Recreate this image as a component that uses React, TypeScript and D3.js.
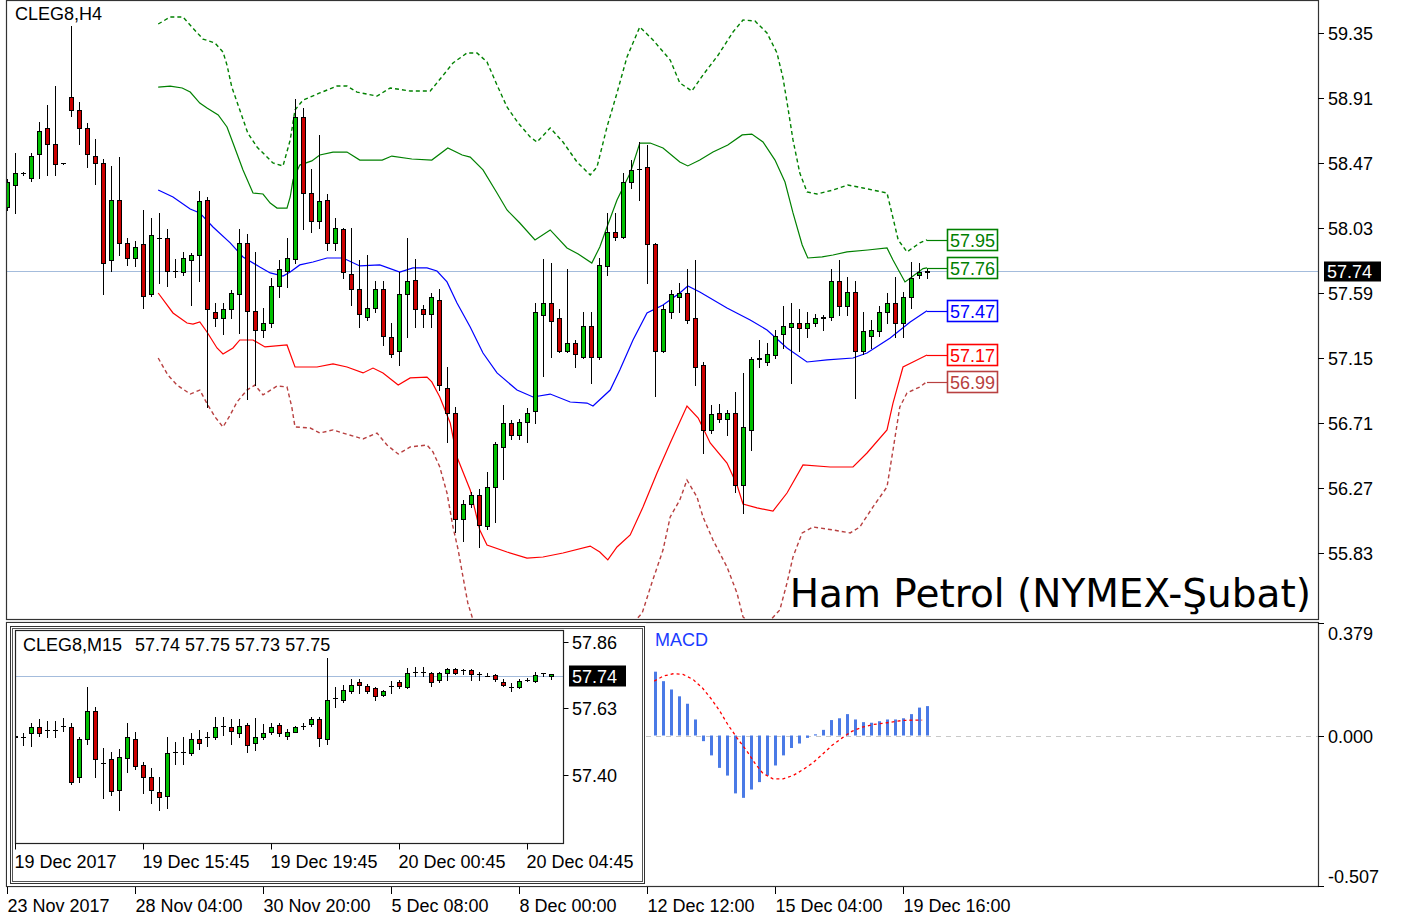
import React from 'react';
import * as d3 from 'd3';

// ---------- DATA ----------
// H4 candles: [open, high, low, close], bar index 0..115
const h4Candles: [number, number, number, number][] = [
  [58.17, 58.36, 58.15, 58.34], [58.32, 58.54, 58.13, 58.40], [58.40, 58.41, 58.39, 58.40], [58.37, 58.54, 58.35, 58.52],
  [58.53, 58.75, 58.37, 58.69], [58.71, 58.86, 58.39, 58.60], [58.60, 58.99, 58.39, 58.46], [58.47, 58.47, 58.47, 58.47],
  [58.92, 59.40, 58.79, 58.83], [58.83, 58.88, 58.60, 58.71], [58.71, 58.74, 58.44, 58.53], [58.52, 58.63, 58.33, 58.47],
  [58.47, 58.50, 57.58, 57.79], [57.81, 58.45, 57.74, 58.22], [58.22, 58.51, 57.85, 57.93], [57.93, 57.96, 57.78, 57.83],
  [57.83, 57.94, 57.77, 57.90], [57.92, 58.15, 57.49, 57.57], [57.58, 58.10, 57.57, 57.98], [57.96, 58.13, 57.66, 57.96],
  [57.96, 58.02, 57.64, 57.74], [57.74, 57.82, 57.70, 57.74], [57.73, 57.87, 57.71, 57.83], [57.81, 57.86, 57.51, 57.85],
  [57.85, 58.28, 57.67, 58.21], [58.22, 58.24, 56.82, 57.48], [57.46, 57.52, 57.37, 57.42], [57.42, 57.52, 57.31, 57.48],
  [57.48, 57.61, 57.42, 57.59], [57.58, 58.02, 57.32, 57.93], [57.93, 57.99, 56.87, 57.47], [57.47, 57.87, 56.97, 57.34],
  [57.34, 57.49, 57.29, 57.39], [57.39, 57.69, 57.36, 57.64], [57.64, 57.81, 57.56, 57.75], [57.74, 57.96, 57.63, 57.83],
  [57.82, 58.90, 57.79, 58.78], [58.78, 58.84, 58.02, 58.27], [58.27, 58.43, 58.00, 58.08], [58.08, 58.66, 58.03, 58.21],
  [58.22, 58.26, 57.88, 57.93], [57.93, 58.10, 57.88, 58.03], [58.02, 58.03, 57.69, 57.73], [57.72, 58.03, 57.51, 57.62],
  [57.62, 57.81, 57.36, 57.45], [57.43, 57.85, 57.41, 57.49], [57.49, 57.67, 57.46, 57.62], [57.62, 57.67, 57.24, 57.30],
  [57.29, 57.39, 57.16, 57.18], [57.20, 57.73, 57.10, 57.58], [57.58, 57.96, 57.29, 57.67], [57.68, 57.82, 57.36, 57.48],
  [57.48, 57.51, 57.36, 57.45], [57.45, 57.59, 57.36, 57.56], [57.54, 57.62, 56.93, 56.97], [56.95, 57.09, 56.58, 56.78],
  [56.78, 56.82, 55.97, 56.06], [56.06, 56.19, 55.91, 56.16], [56.16, 56.24, 56.14, 56.22], [56.22, 56.26, 55.87, 56.02],
  [56.01, 56.38, 55.99, 56.28], [56.28, 56.58, 56.04, 56.57], [56.55, 56.83, 56.33, 56.71], [56.71, 56.73, 56.60, 56.63],
  [56.63, 56.74, 56.60, 56.72], [56.72, 56.81, 56.58, 56.78], [56.79, 57.52, 56.71, 57.46], [57.44, 57.82, 57.03, 57.52],
  [57.52, 57.79, 57.16, 57.40], [57.42, 57.48, 57.19, 57.20], [57.20, 57.75, 57.19, 57.25], [57.25, 57.27, 57.09, 57.18],
  [57.16, 57.46, 57.15, 57.37], [57.37, 57.46, 56.98, 57.16], [57.16, 57.83, 57.14, 57.78], [57.77, 58.13, 57.71, 58.00],
  [58.00, 58.13, 57.95, 57.97], [57.97, 58.40, 57.96, 58.34], [58.34, 58.49, 58.30, 58.42], [58.43, 58.61, 58.22, 58.43],
  [58.44, 58.59, 57.66, 57.92], [57.92, 57.93, 56.89, 57.20], [57.20, 57.51, 57.19, 57.48], [57.46, 57.61, 57.42, 57.58],
  [57.56, 57.66, 57.46, 57.59], [57.59, 57.75, 57.39, 57.41], [57.42, 57.81, 56.97, 57.09], [57.10, 57.12, 56.51, 56.66],
  [56.66, 56.83, 56.64, 56.77], [56.78, 56.84, 56.72, 56.74], [56.74, 56.80, 56.63, 56.78], [56.78, 56.92, 56.24, 56.29],
  [56.29, 57.05, 56.10, 56.68], [56.66, 57.16, 56.53, 57.14], [57.14, 57.27, 57.09, 57.15], [57.12, 57.25, 57.10, 57.18],
  [57.17, 57.34, 57.15, 57.30], [57.31, 57.50, 57.22, 57.37], [57.36, 57.52, 56.98, 57.39], [57.39, 57.48, 57.20, 57.35],
  [57.35, 57.46, 57.29, 57.39], [57.39, 57.45, 57.37, 57.42], [57.42, 57.44, 57.34, 57.43], [57.43, 57.75, 57.41, 57.67],
  [57.67, 57.81, 57.44, 57.50], [57.50, 57.70, 57.44, 57.60], [57.60, 57.67, 56.88, 57.20], [57.20, 57.46, 57.18, 57.33],
  [57.30, 57.41, 57.22, 57.34], [57.33, 57.50, 57.30, 57.46], [57.46, 57.59, 57.39, 57.52], [57.52, 57.70, 57.29, 57.39],
  [57.39, 57.60, 57.29, 57.56], [57.56, 57.80, 57.49, 57.69], [57.71, 57.79, 57.69, 57.73], [57.73, 57.76, 57.69, 57.74],
];

// M15 candles for the inset chart, bar index 0..67
const m15Candles: [number, number, number, number][] = [
  [57.535, 57.545, 57.52, 57.53], [57.53, 57.544, 57.504, 57.53], [57.544, 57.578, 57.50, 57.567], [57.565, 57.593, 57.535, 57.544],
  [57.555, 57.587, 57.532, 57.555], [57.555, 57.585, 57.532, 57.555], [57.569, 57.596, 57.551, 57.569], [57.567, 57.578, 57.37, 57.377],
  [57.392, 57.53, 57.375, 57.523], [57.523, 57.705, 57.507, 57.622], [57.622, 57.636, 57.392, 57.454], [57.443, 57.492, 57.32, 57.443],
  [57.454, 57.48, 57.33, 57.346], [57.348, 57.49, 57.28, 57.463], [57.46, 57.58, 57.412, 57.53], [57.523, 57.55, 57.42, 57.431],
  [57.435, 57.446, 57.339, 57.392], [57.392, 57.423, 57.303, 57.348], [57.342, 57.394, 57.279, 57.323], [57.327, 57.532, 57.285, 57.475],
  [57.48, 57.515, 57.438, 57.48], [57.48, 57.53, 57.438, 57.48], [57.475, 57.544, 57.47, 57.523], [57.523, 57.555, 57.49, 57.51],
  [57.53, 57.55, 57.50, 57.53], [57.53, 57.60, 57.525, 57.565], [57.57, 57.60, 57.538, 57.57], [57.565, 57.592, 57.507, 57.553],
  [57.546, 57.592, 57.53, 57.569], [57.572, 57.578, 57.48, 57.503], [57.512, 57.596, 57.486, 57.53], [57.53, 57.575, 57.525, 57.544],
  [57.55, 57.58, 57.54, 57.565], [57.572, 57.58, 57.535, 57.544], [57.535, 57.56, 57.525, 57.55], [57.55, 57.568, 57.548, 57.565],
  [57.57, 57.58, 57.56, 57.57], [57.576, 57.60, 57.57, 57.592], [57.592, 57.60, 57.50, 57.527], [57.523, 57.803, 57.507, 57.66],
  [57.665, 57.705, 57.634, 57.665], [57.66, 57.71, 57.652, 57.693], [57.691, 57.73, 57.682, 57.71], [57.722, 57.73, 57.682, 57.711],
  [57.707, 57.713, 57.682, 57.691], [57.699, 57.705, 57.659, 57.673], [57.676, 57.695, 57.672, 57.691], [57.707, 57.725, 57.682, 57.707],
  [57.722, 57.728, 57.699, 57.707], [57.705, 57.768, 57.70, 57.751], [57.757, 57.774, 57.74, 57.757], [57.757, 57.774, 57.74, 57.757],
  [57.751, 57.755, 57.707, 57.722], [57.728, 57.755, 57.72, 57.751], [57.751, 57.768, 57.728, 57.765], [57.765, 57.768, 57.75, 57.753],
  [57.762, 57.765, 57.75, 57.762], [57.762, 57.765, 57.728, 57.749], [57.749, 57.755, 57.728, 57.749], [57.74, 57.752, 57.74, 57.74],
  [57.745, 57.748, 57.725, 57.73], [57.722, 57.73, 57.707, 57.711], [57.705, 57.716, 57.69, 57.705], [57.705, 57.73, 57.70, 57.725],
  [57.728, 57.735, 57.725, 57.728], [57.725, 57.755, 57.72, 57.745], [57.751, 57.752, 57.74, 57.751], [57.74, 57.75, 57.73, 57.75],
];

// Bollinger bands: [bar index, price]
const bbUpper: [number, number][] = [
  [18.9, 58.984], [20.4, 58.991], [21.9, 58.978], [22.9, 58.95], [24.1, 58.876], [25, 58.842], [26.4, 58.795], [27.5, 58.714],
  [28.25, 58.605], [29.5, 58.423], [30.75, 58.267], [32, 58.26], [32.9, 58.199], [33.75, 58.165], [35, 58.165], [35.4, 58.24],
  [35.75, 58.355], [36.6, 58.456], [38.1, 58.484], [39.1, 58.524], [40.75, 58.544], [42.5, 58.544], [44.1, 58.49], [46.9, 58.49],
  [48.1, 58.517], [50.6, 58.497], [53.1, 58.49], [55.1, 58.572], [56.9, 58.524], [57.9, 58.51], [59.5, 58.423], [61.25, 58.267],
  [62.5, 58.152], [64.1, 58.064], [66, 57.949], [67.9, 58.017], [70, 57.895], [71.4, 57.854], [73.1, 57.793], [74.1, 57.901],
  [75, 58.037], [76.25, 58.22], [77.9, 58.402], [79.1, 58.605], [80.4, 58.605], [82, 58.572], [84.1, 58.477], [85.1, 58.45],
  [86.6, 58.49], [88.25, 58.544], [90.1, 58.592], [91.9, 58.66], [93.1, 58.666], [94.5, 58.612], [96, 58.49], [97.25, 58.341],
  [98.25, 58.132], [99.4, 57.915], [100.1, 57.827], [101.9, 57.834], [103.25, 57.847], [105, 57.868], [107.6, 57.881], [110, 57.895],
  [110.75, 57.813], [112.25, 57.665], [113.1, 57.698], [114.5, 57.755], [115, 57.76],
];
const bbMiddle: [number, number][] = [
  [18.9, 58.287], [20.75, 58.24], [22.9, 58.159], [24.1, 58.132], [25.75, 58.037], [27.9, 57.929], [29.5, 57.834], [31.6, 57.766],
  [32.9, 57.726], [34.5, 57.705], [35.4, 57.732], [36.6, 57.78], [38.25, 57.8], [40, 57.827], [42, 57.827], [44.1, 57.773],
  [46.6, 57.78], [49.1, 57.732], [50.75, 57.76], [52.5, 57.76], [53.75, 57.739], [55, 57.665], [56.25, 57.522], [57.9, 57.36],
  [59.5, 57.184], [61.25, 57.049], [63.75, 56.933], [65.75, 56.886], [67.9, 56.906], [70.4, 56.852], [72.5, 56.845], [73.25, 56.825],
  [75.4, 56.933], [76.6, 57.069], [78.25, 57.272], [80, 57.455], [82, 57.509], [84.1, 57.59], [85.1, 57.637], [86.6, 57.597],
  [90, 57.489], [92.9, 57.407], [95, 57.34], [97.5, 57.218], [100, 57.123], [102.5, 57.137], [105.75, 57.15], [107.5, 57.184],
  [110.4, 57.286], [112.9, 57.394], [115, 57.47],
];
const bbLower: [number, number][] = [
  [18.9, 57.59], [20.75, 57.455], [22.5, 57.387], [23.25, 57.38], [24.1, 57.394], [25, 57.326], [26.25, 57.218], [27, 57.177],
  [28.25, 57.218], [29.1, 57.272], [30.75, 57.272], [32.25, 57.225], [35, 57.238], [36, 57.089], [38.75, 57.089], [40.75, 57.11],
  [42.5, 57.089], [44.5, 57.049], [45.75, 57.082], [47, 57.049], [48.9, 56.967], [50.4, 57.015], [52.5, 57.021], [53.1, 56.988],
  [54.1, 56.886], [55.4, 56.71], [56.25, 56.48], [57.9, 56.257], [59.1, 55.986], [60, 55.884], [62.5, 55.837], [65, 55.796],
  [67, 55.803], [69.5, 55.83], [72.9, 55.877], [74.1, 55.837], [75.1, 55.783], [76.25, 55.871], [77.9, 55.952], [79.5, 56.141],
  [81.25, 56.372], [82.9, 56.575], [85, 56.825], [86.4, 56.744], [87.9, 56.575], [90, 56.439], [91.25, 56.29], [92, 56.162],
  [93.75, 56.135], [95.75, 56.114], [97.5, 56.236], [99.5, 56.426], [102.9, 56.412], [105.75, 56.412], [107.5, 56.507], [110, 56.663],
  [110.75, 56.845], [112, 57.089], [113.25, 57.123], [115, 57.17],
];
const bbUpperWide: [number, number][] = [
  [18.9, 59.411], [20.4, 59.458], [22, 59.458], [23.1, 59.391], [24.5, 59.309], [26, 59.282], [27, 59.221], [27.5, 59.133],
  [28.1, 58.984], [29.1, 58.829], [30.1, 58.673], [31.25, 58.578], [32.5, 58.511], [33.25, 58.47], [34.5, 58.45], [35.4, 58.626],
  [36, 58.829], [37, 58.896], [39.1, 58.944], [41.25, 58.991], [42.5, 58.991], [43.75, 58.95], [46.25, 58.923], [47.9, 58.978],
  [50.4, 58.957], [52.9, 58.957], [54.75, 59.079], [55.75, 59.147], [57.5, 59.215], [58.75, 59.215], [60, 59.154], [61.25, 58.998],
  [62.5, 58.849], [63.9, 58.741], [65.4, 58.646], [66.25, 58.612], [67.9, 58.707], [69.5, 58.612], [71.25, 58.477], [72.9, 58.389],
  [73.75, 58.443], [75, 58.714], [76.25, 58.944], [77.5, 59.188], [79.1, 59.391], [80.75, 59.303], [82.9, 59.167], [84.1, 59.012],
  [85.6, 58.957], [87, 59.066], [88.9, 59.201], [90.75, 59.357], [92, 59.438], [93.5, 59.431], [95, 59.35], [96.25, 59.215],
  [97, 59.045], [97.6, 58.849], [98.25, 58.626], [99.1, 58.402], [100, 58.274], [101.25, 58.26], [103.25, 58.287], [105.1, 58.321],
  [107, 58.301], [110, 58.267], [110.6, 58.132], [111.4, 57.949], [112.5, 57.868], [114.1, 57.929], [115, 57.95],
];
const bbLowerWide: [number, number][] = [
  [18.9, 57.15], [20.1, 57.035], [21.25, 56.967], [22.9, 56.906], [24.1, 56.933], [25.1, 56.832], [26, 56.751], [27, 56.683],
  [27.9, 56.764], [28.75, 56.852], [30, 56.933], [31, 56.967], [32, 56.9], [33.75, 56.96], [35, 56.954], [35.6, 56.818],
  [36, 56.683], [37.9, 56.676], [39.1, 56.642], [40.75, 56.663], [42, 56.642], [44.5, 56.602], [46.25, 56.642], [47.5, 56.561],
  [48.9, 56.5], [50.4, 56.548], [52.5, 56.561], [53.25, 56.514], [54.1, 56.412], [55, 56.236], [55.75, 56.006], [56.4, 55.85],
  [57, 55.668], [57.6, 55.492], [58.25, 55.377], [60.4, 55.17], [66.6, 55.07], [74.1, 55.11], [79.4, 55.424], [80.6, 55.627],
  [82, 55.85], [82.9, 56.074], [84.1, 56.189], [85, 56.324], [86.25, 56.209], [87, 56.074], [88.25, 55.918], [90, 55.735],
  [91.25, 55.559], [92, 55.397], [94.1, 55.3], [96.6, 55.444], [97.5, 55.627], [98.25, 55.803], [99.4, 55.966], [100.75, 56.006],
  [103.25, 55.986], [105.4, 55.966], [106.6, 56.006], [108.25, 56.142], [110, 56.277], [110.75, 56.527], [111.6, 56.818], [112.5, 56.913],
  [114.1, 56.954], [115, 56.99],
];

// MACD histogram for bars 81..115
const macdFirstBar = 81;
const macdHist = [
  0.215, 0.183, 0.155, 0.132, 0.107, 0.054, -0.019, -0.067, -0.109, -0.135, -0.195, -0.21, -0.182, -0.157, -0.135, -0.101,
  -0.067, -0.042, -0.027, -0.008, 0.004, 0.019, 0.052, 0.058, 0.072, 0.054, 0.045, 0.043, 0.048, 0.054, 0.054, 0.058,
  0.072, 0.094, 0.099,
];
const macdSignal: [number, number][] = [
  [80.9, 0.183], [82, 0.2], [83.25, 0.208], [84.5, 0.206], [85.75, 0.189], [86.9, 0.161], [88.1, 0.121], [89.1, 0.082],
  [90.1, 0.037], [91.25, -0.008], [92.5, -0.053], [93.5, -0.094], [94.5, -0.128], [95.75, -0.146], [97, -0.146], [98.25, -0.135],
  [99.5, -0.115], [100.75, -0.092], [101.9, -0.064], [103.1, -0.034], [104.4, -0.008], [105.6, 0.014], [106.9, 0.028], [108.25, 0.037],
  [110, 0.043], [112, 0.051], [114.4, 0.052],
];

const priceTicks = [59.35, 58.91, 58.47, 58.03, 57.59, 57.15, 56.71, 56.27, 55.83];
const currentPrice = 57.74;
const timeLabels = ['23 Nov 2017', '28 Nov 04:00', '30 Nov 20:00', '5 Dec 08:00', '8 Dec 00:00', '12 Dec 12:00', '15 Dec 04:00', '19 Dec 16:00'];
const timeLabelBars = [0, 16, 32, 48, 64, 80, 96, 112];
const insetTimeLabels = ['19 Dec 2017', '19 Dec 15:45', '19 Dec 19:45', '20 Dec 00:45', '20 Dec 04:45'];
const insetLabelBars = [0, 16, 32, 48, 64];
const insetPriceTicks = [57.86, 57.63, 57.40];
const macdTicks = [0.379, 0.0, -0.507];
const bandLabelValues = [57.95, 57.76, 57.47, 57.17, 56.99];
const insetOHLC = ['57.74', '57.75', '57.73', '57.75'];

// ---------- STYLE / LAYOUT ----------
const FONT = "'Liberation Sans', Arial, sans-serif";
const FS = 18;
const BULL = '#00c000';
const BEAR = '#cc0000';
const GREEN = '#008000';
const BLUE = '#0000ff';
const RED = '#ff0000';
const BROWN = '#b84040';
const PRICE_LINE = '#a4bcdc';
const bandLabelColors = [GREEN, GREEN, BLUE, RED, BROWN];

const M = { l: 7, r: 1318, t: 0, b: 619 };
const xMain = d3.scaleLinear().domain([0, 115]).range([7, 927]);
const yMain = d3.scaleLinear().domain([55.83, 59.35]).range([553, 33]);
const yMacd = d3.scaleLinear().domain([-0.507, 0.379]).range([886, 623]);
const IN = { l: 15.5, r: 563.5, t: 630.5, b: 843.5 };
const xIn = d3.scaleLinear().domain([0, 67]).range([15, 551]);
const yIn = d3.scaleLinear().domain([57.40, 57.86]).range([775, 641.7]);

function Candles({ data, xs, ys, prefix }: { data: [number, number, number, number][]; xs: (i: number) => number; ys: (v: number) => number; prefix: string }) {
  return (
    <g>
      {data.map((c, i) => {
        const [o, h, l, cl] = c;
        const cx = Math.round(xs(i));
        const yh = Math.round(ys(h));
        const yl = Math.round(ys(l));
        const top = Math.round(ys(Math.max(o, cl)));
        const bot = Math.round(ys(Math.min(o, cl)));
        const doji = Math.abs(o - cl) < 0.004;
        return (
          <g key={prefix + i}>
            <line x1={cx + 0.5} x2={cx + 0.5} y1={yh} y2={Math.max(yl, yh + 1) + 1} stroke="#000" strokeWidth={1} />
            {doji ? (
              <line x1={cx - 2} x2={cx + 3} y1={top + 0.5} y2={top + 0.5} stroke="#000" strokeWidth={1} />
            ) : (
              <rect x={cx - 1.5} y={top + 0.5} width={4} height={Math.max(1, bot - top)} fill={cl > o ? BULL : BEAR} stroke="#000" strokeWidth={1} />
            )}
          </g>
        );
      })}
    </g>
  );
}

export default function App() {
  const line = d3.line<[number, number]>().x(d => xMain(d[0])).y(d => yMain(d[1]));
  const sigLine = d3.line<[number, number]>().x(d => xMain(d[0])).y(d => yMacd(d[1]));
  const bands: { d: [number, number][]; c: string; dash?: string }[] = [
    { d: bbUpperWide, c: GREEN, dash: '4,3' },
    { d: bbUpper, c: GREEN },
    { d: bbMiddle, c: BLUE },
    { d: bbLower, c: RED },
    { d: bbLowerWide, c: BROWN, dash: '4,3' },
  ];
  const yCur = Math.round(yMain(currentPrice)) + 0.5;
  const yCurIn = Math.round(yIn(currentPrice)) + 0.5;
  const txt = { fontFamily: FONT, fontSize: FS, fill: '#000' } as const;

  return (
    <svg width={1407} height={922} style={{ position: 'absolute', left: 0, top: 0, background: '#fff' }}>
      <defs>
        <clipPath id="mainClip"><rect x={M.l} y={M.t} width={M.r - M.l} height={M.b - M.t} /></clipPath>
        <clipPath id="inClip"><rect x={IN.l} y={IN.t} width={IN.r - IN.l} height={IN.b - IN.t} /></clipPath>
        <clipPath id="macdClip"><rect x={646} y={623} width={672} height={263} /></clipPath>
      </defs>
      <rect x={0} y={0} width={1407} height={922} fill="#fff" />

      {/* ---------- main pane ---------- */}
      <g clipPath="url(#mainClip)">
        <line x1={M.l} x2={M.r} y1={yCur} y2={yCur} stroke={PRICE_LINE} strokeWidth={1.2} />
        {bands.map((b, i) => (
          <path key={'band' + i} d={line(b.d) || ''} fill="none" stroke={b.c} strokeWidth={b.dash ? 1.4 : 1.2} strokeDasharray={b.dash} />
        ))}
        <Candles data={h4Candles} xs={xMain} ys={yMain} prefix="h4" />
        {bandLabelValues.map((v, i) => {
          const yy = Math.round(yMain(v)) + 0.5;
          return (
            <g key={'bl' + i}>
              <line x1={xMain(115)} x2={947} y1={yy} y2={yy} stroke={bandLabelColors[i]} strokeWidth={1.2} />
              <rect x={947.5} y={yy - 11} width={50} height={21} fill="#fff" stroke={bandLabelColors[i]} strokeWidth={1.6} />
              <text x={972.5} y={yy + 0.5} textAnchor="middle" dominantBaseline="central" style={{ fontFamily: FONT, fontSize: FS, fill: bandLabelColors[i] }}>{v.toFixed(2)}</text>
            </g>
          );
        })}
        <text x={1311} y={607} textAnchor="end" style={{ fontFamily: "'DejaVu Sans', Verdana, sans-serif", fontSize: 39, fill: '#000' }}>Ham Petrol (NYMEX-Şubat)</text>
      </g>
      <text x={15} y={14} dominantBaseline="central" style={txt}>CLEG8,H4</text>
      <rect x={M.l - 0.5} y={0.5} width={M.r - M.l + 1} height={M.b} fill="none" stroke="#333" strokeWidth={1.2} />
      {priceTicks.map(p => {
        const yy = Math.round(yMain(p)) + 0.5;
        return (
          <g key={'pt' + p}>
            <line x1={M.r} x2={M.r + 6} y1={yy} y2={yy} stroke="#000" />
            <text x={1328} y={yy} dominantBaseline="central" style={txt}>{p.toFixed(2)}</text>
          </g>
        );
      })}
      <rect x={1324} y={yCur - 10} width={57} height={20} fill="#000" />
      <text x={1327} y={yCur} dominantBaseline="central" style={{ ...txt, fill: '#fff' }}>{currentPrice.toFixed(2)}</text>

      {/* ---------- bottom pane (MACD) ---------- */}
      <rect x={6.5} y={622.5} width={1312} height={264} fill="#fff" stroke="#333" strokeWidth={1.2} />
      <g clipPath="url(#macdClip)">
        <line x1={646} x2={1318} y1={Math.round(yMacd(0)) + 0.5} y2={Math.round(yMacd(0)) + 0.5} stroke="#c8c8c8" strokeDasharray="5,5" />
        {macdHist.map((v, k) => {
          const cx = Math.round(xMain(macdFirstBar + k));
          const y0 = yMacd(0);
          const yv = yMacd(v);
          return <rect key={'mh' + k} x={cx - 1} y={Math.min(y0, yv)} width={3} height={Math.max(1, Math.abs(yv - y0))} fill="#4a7ae6" />;
        })}
        <path d={sigLine(macdSignal) || ''} fill="none" stroke={RED} strokeWidth={1.3} strokeDasharray="3,3" />
      </g>
      <text x={655} y={640} dominantBaseline="central" style={{ ...txt, fill: '#1a3cff' }}>MACD</text>
      {macdTicks.map((v, i) => {
        const yy = Math.round(yMacd(v)) + 0.5;
        const ty = i === 0 ? yy + 10 : i === 2 ? yy - 10 : yy;
        return (
          <g key={'mt' + i}>
            <line x1={1318} x2={1324} y1={yy} y2={yy} stroke="#000" />
            <text x={1328} y={ty} dominantBaseline="central" style={txt}>{v.toFixed(3)}</text>
          </g>
        );
      })}

      {/* ---------- inset M15 window ---------- */}
      <rect x={7} y={623} width={639} height={263} fill="#fff" />
      <rect x={10.5} y={626.5} width={634} height={257} fill="none" stroke="#333" strokeWidth={1} />
      <rect x={12.5} y={628.5} width={630} height={253} fill="none" stroke="#555" strokeWidth={1} />
      <g clipPath="url(#inClip)">
        <line x1={IN.l} x2={IN.r} y1={yCurIn} y2={yCurIn} stroke={PRICE_LINE} strokeWidth={1.2} />
        <Candles data={m15Candles} xs={xIn} ys={yIn} prefix="m15" />
      </g>
      <rect x={IN.l} y={IN.t} width={IN.r - IN.l} height={IN.b - IN.t} fill="none" stroke="#222" strokeWidth={1.2} />
      <text x={23} y={645} dominantBaseline="central" style={txt}>CLEG8,M15</text>
      <text x={135} y={645} dominantBaseline="central" style={txt}>{insetOHLC.join(' ')}</text>
      {insetPriceTicks.map(p => {
        const yy = Math.round(yIn(p)) + 0.5;
        return (
          <g key={'ip' + p}>
            <line x1={IN.r} x2={IN.r + 5} y1={yy} y2={yy} stroke="#000" />
            <text x={572} y={yy} dominantBaseline="central" style={txt}>{p.toFixed(2)}</text>
          </g>
        );
      })}
      <rect x={569} y={yCurIn - 11} width={57} height={21} fill="#000" />
      <text x={572} y={yCurIn} dominantBaseline="central" style={{ ...txt, fill: '#fff' }}>{currentPrice.toFixed(2)}</text>
      {insetTimeLabels.map((t, i) => {
        const xx = Math.round(xIn(insetLabelBars[i])) + 0.5;
        return (
          <g key={'it' + i}>
            <line x1={xx} x2={xx} y1={IN.b} y2={IN.b + 6} stroke="#000" />
            <text x={xx - 1} y={862} dominantBaseline="central" style={txt}>{t}</text>
          </g>
        );
      })}

      {/* ---------- time axis ---------- */}
      {timeLabels.map((t, i) => {
        const xx = Math.round(xMain(timeLabelBars[i])) + 0.5;
        return (
          <g key={'tl' + i}>
            <line x1={xx} x2={xx} y1={887} y2={894} stroke="#000" />
            <text x={xx} y={906} dominantBaseline="central" style={txt}>{t}</text>
          </g>
        );
      })}
    </svg>
  );
}
